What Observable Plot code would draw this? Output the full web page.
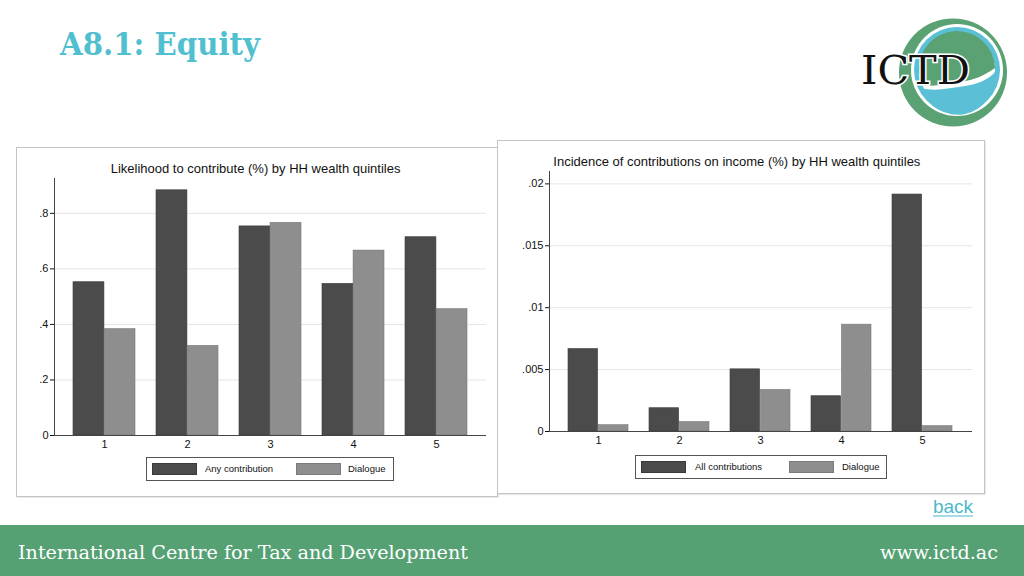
<!DOCTYPE html>
<html><head><meta charset="utf-8">
<script src="https://cdn.jsdelivr.net/npm/d3@7"></script>
<script src="https://cdn.jsdelivr.net/npm/@observablehq/plot@0.6"></script>
<style>
html,body{margin:0;padding:0}
body{width:1024px;height:576px;position:relative;overflow:hidden;background:#fff;font-family:"Liberation Sans",Arial,sans-serif;}
.panel{position:absolute;border:1px solid #c4c4c4;background:#fff;box-sizing:border-box;box-shadow:1px 1px 1px rgba(0,0,0,0.08)}
.chart{position:absolute}
.legend{position:absolute;border:1px solid #555;box-sizing:border-box;background:#fff;font-size:9.5px;color:#111}
.legend .sw{position:absolute;width:45px;height:12px}
.legend .lb{position:absolute;line-height:12px}
#overlay{position:absolute;left:0;top:0;pointer-events:none}
</style>
</head><body>
<div class="panel" style="left:16px;top:147px;width:482px;height:350px"></div>
<div class="panel" style="left:497px;top:140px;width:488px;height:354px"></div>
<div id="left" class="chart" style="left:16px;top:170px"></div>
<div id="right" class="chart" style="left:497px;top:163px"></div>
<div id="legL" class="legend" style="left:146px;top:457px;width:248px;height:24px"></div>
<div id="legR" class="legend" style="left:635px;top:455px;width:252px;height:24px"></div>
<svg id="overlay" width="1024" height="576"></svg>
<script>
const quintiles = ["1", "2", "3", "4", "5"];
const leftSeries = ["Any contribution", "Dialogue"];
const rightSeries = ["All contributions", "Dialogue"];
const likelihoodAny = [0.552, 0.883, 0.753, 0.546, 0.714];
const likelihoodDialogue = [0.383, 0.323, 0.766, 0.666, 0.455];
const incidenceAll = [0.00666, 0.00188, 0.00502, 0.00285, 0.01914];
const incidenceDialogue = [0.00051, 0.00077, 0.00336, 0.00863, 0.00043];
const leftTicks = [0, 0.2, 0.4, 0.6, 0.8];
const rightTicks = [0, 0.005, 0.01, 0.015, 0.02];
const leftTitle = "Likelihood to contribute (%) by HH wealth quintiles";
const rightTitle = "Incidence of contributions on income (%) by HH wealth quintiles";
const colors = ["#4b4b4b", "#8e8e8e"];
const strokes = ["#3a3a3a", "#7b7b7b"];

const fmt = d => d === 0 ? "0" : String(d).replace(/^0\./, ".");

function chart(o) {
  const pi = 0.255, po = 0.2165;
  const range = o.width - o.ml - o.mr;
  const step = range / (quintiles.length - pi + 2 * po);
  const half = step * (1 - pi) / 2;
  const rows1 = quintiles.map((q, i) => ({q, v: o.s1[i]}));
  const rows2 = quintiles.map((q, i) => ({q, v: o.s2[i]}));
  return Plot.plot({
    width: o.width, height: o.height,
    marginLeft: o.ml, marginRight: o.mr, marginTop: o.mt, marginBottom: o.mb,
    style: {fontFamily: '"Liberation Sans", Arial, sans-serif', fontSize: o.fs + "px", color: "#111", background: "transparent", overflow: "visible"},
    x: {type: "band", domain: quintiles, paddingInner: pi, paddingOuter: po, label: null},
    y: {domain: [0, o.yMax], label: null},
    marks: [
      Plot.gridY(o.ticks.slice(1), {stroke: "#e4e4e4", strokeOpacity: 1}),
      Plot.barY(rows1, {x: "q", y: "v", fill: colors[0], stroke: strokes[0], strokeWidth: 0.6, insetRight: half}),
      Plot.barY(rows2, {x: "q", y: "v", fill: colors[1], stroke: strokes[1], strokeWidth: 0.6, insetLeft: half}),
      Plot.ruleY([0], {stroke: "#444"}),
      Plot.frame({anchor: "left", stroke: "#444"}),
      Plot.axisY({ticks: o.ticks, tickSize: 4, tickPadding: 2, tickFormat: fmt, label: null}),
      Plot.axisX({tickSize: 0, tickPadding: 5, label: null})
    ]
  });
}

document.getElementById("left").appendChild(chart({
  width: 478, height: 285, ml: 38, mr: 8, mt: 8, mb: 20, yMax: 0.9255, fs: 11,
  ticks: leftTicks, s1: likelihoodAny, s2: likelihoodDialogue
}));
document.getElementById("right").appendChild(chart({
  width: 483, height: 288, ml: 52, mr: 8, mt: 8, mb: 20, yMax: 0.021, fs: 11,
  ticks: rightTicks, s1: incidenceAll, s2: incidenceDialogue
}));

function legend(id, names, pos) {
  const el = document.getElementById(id);
  names.forEach((n, i) => {
    const sw = document.createElement("div");
    sw.className = "sw";
    sw.style.left = pos[i][0] + "px"; sw.style.top = "5px";
    sw.style.background = colors[i];
    sw.style.border = "0.6px solid " + strokes[i];
    sw.style.boxSizing = "border-box";
    el.appendChild(sw);
    const lb = document.createElement("div");
    lb.className = "lb";
    lb.style.left = pos[i][1] + "px"; lb.style.top = "5px";
    lb.textContent = n;
    el.appendChild(lb);
  });
}
legend("legL", leftSeries, [[5, 58], [149, 201]]);
legend("legR", rightSeries, [[5, 59], [153, 206]]);

const ov = d3.select("#overlay");
// chart titles
ov.append("text").attr("x", 110.7).attr("y", 173.3).attr("font-family", '"Liberation Sans", Arial, sans-serif')
  .attr("font-size", 13).attr("fill", "#111").text(leftTitle);
ov.append("text").attr("x", 553.3).attr("y", 166.3).attr("font-family", '"Liberation Sans", Arial, sans-serif')
  .attr("font-size", 13).attr("fill", "#111").text(rightTitle);
// slide title
ov.append("text").attr("x", 60).attr("y", 55).attr("font-family", '"DejaVu Serif", serif').attr("font-weight", "bold")
  .attr("font-size", 31).attr("fill", "#50bfd0").attr("textLength", 200).attr("lengthAdjust", "spacingAndGlyphs").text("A8.1: Equity");
// back link
ov.append("text").attr("x", 933).attr("y", 512.5).attr("font-family", '"Liberation Sans", Arial, sans-serif')
  .attr("font-size", 19).attr("fill", "#4db8cc").attr("textLength", 40).text("back");
ov.append("line").attr("x1", 933).attr("x2", 973).attr("y1", 516).attr("y2", 516).attr("stroke", "#4db8cc").attr("stroke-width", 1.2);
// footer
ov.append("rect").attr("x", 0).attr("y", 525).attr("width", 1024).attr("height", 51).attr("fill", "#55a174");
ov.append("text").attr("x", 18).attr("y", 559).attr("font-family", '"DejaVu Serif", serif').attr("font-size", 19)
  .attr("fill", "#fff").attr("textLength", 450).attr("lengthAdjust", "spacingAndGlyphs").text("International Centre for Tax and Development");
ov.append("text").attr("x", 880).attr("y", 559).attr("font-family", '"DejaVu Serif", serif').attr("font-size", 19)
  .attr("fill", "#fff").attr("textLength", 118).attr("lengthAdjust", "spacingAndGlyphs").text("www.ictd.ac");
// logo
const lg = ov.append("g");
lg.append("circle").attr("cx", 953).attr("cy", 72.5).attr("r", 54).attr("fill", "#5aa173");
lg.append("circle").attr("cx", 957).attr("cy", 70).attr("r", 46).attr("fill", "#fff");
lg.append("circle").attr("cx", 957).attr("cy", 70).attr("r", 43).attr("fill", "#5bc0d6");
lg.append("circle").attr("cx", 957).attr("cy", 70).attr("r", 38).attr("fill", "#fff");
lg.append("path").attr("d", "M919,70 A38,38 0 0 1 995,68 C985,75 975,80 960,82 C945,84 930,88 921,84 Z").attr("fill", "#5aa173");
lg.append("path").attr("d", "M921,88 C935,92 950,88 965,86 C980,84 990,78 995,72 A38,38 0 0 1 921,88 Z").attr("fill", "#5bc0d6");
lg.append("text").attr("x", 861).attr("y", 83.5).attr("font-family", '"DejaVu Serif", serif')
  .attr("font-size", 40).attr("fill", "#111").attr("stroke", "#fff").attr("stroke-width", 3).attr("paint-order", "stroke")
  .attr("textLength", 109).attr("lengthAdjust", "spacingAndGlyphs").text("ICTD");
</script>
</body></html>
